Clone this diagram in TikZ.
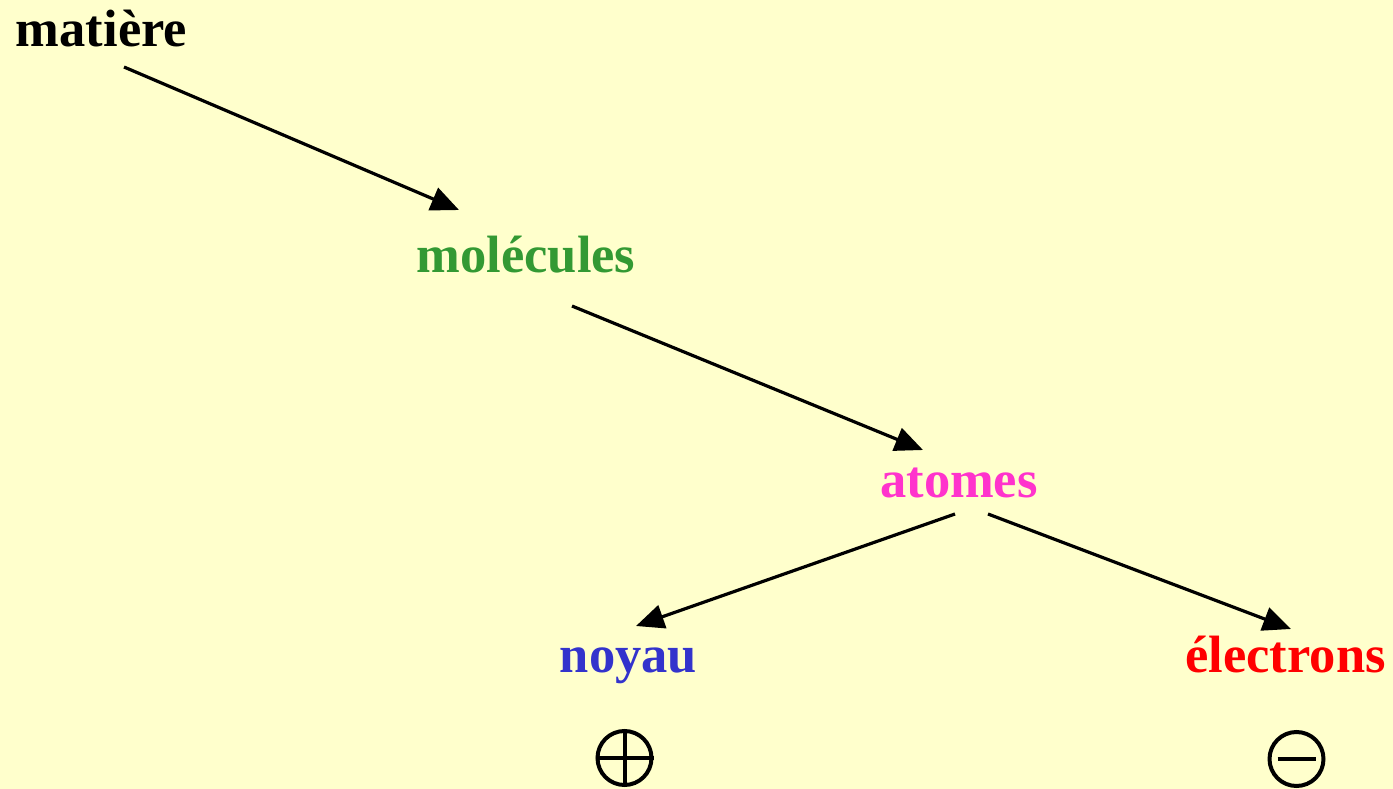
\documentclass[tikz,border=0pt]{standalone}
\usepackage{fontspec}
\setmainfont{Liberation Serif}
\usetikzlibrary{arrows.meta}
\definecolor{bg}{HTML}{FFFFCC}
\definecolor{cgreen}{HTML}{339933}
\definecolor{cmagenta}{HTML}{FF33CC}
\definecolor{cblue}{HTML}{3333CC}
\definecolor{cred}{HTML}{FF0000}
\begin{document}
\begin{tikzpicture}[x=1pt,y=-1pt,
  lbl/.style={anchor=base,inner sep=0pt,font=\fontsize{52.5}{60}\selectfont\bfseries},
  conn/.style={line width=3.2pt,-{Triangle[length=28pt,width=24pt]}},
  sym/.style={circle,draw,line width=4pt,minimum size=54pt,inner sep=0pt}]
\fill[bg] (0,0) rectangle (1393,789);
\useasboundingbox (0,0) rectangle (1393,789);
\node[lbl] (mat) at (101.5,47) {matière};
\node[lbl,text=cgreen] (mol) at (526,272) {molécules};
\node[lbl,text=cmagenta] (ato) at (959,497) {atomes};
\node[lbl,text=cblue] (noy) at (628.5,672) {noyau};
\node[lbl,text=cred] (ele) at (1285.5,672) {électrons};
\coordinate (a1s) at (124,67);
\coordinate (a1e) at (459,210);
\coordinate (a2s) at (572,306);
\coordinate (a2e) at (923,450);
\coordinate (a3s) at (955,514);
\coordinate (a3e) at (636,626);
\coordinate (a4s) at (988,514);
\coordinate (a4e) at (1291,629);
\draw[conn] (a1s) -- (a1e);
\draw[conn] (a2s) -- (a2e);
\draw[conn] (a3s) -- (a3e);
\draw[conn] (a4s) -- (a4e);
\node[sym] (plus) at (624.5,758) {};
\draw[line width=4pt] (plus.north) -- (plus.south);
\draw[line width=4pt] (plus.west) -- (plus.east);
\node[sym] (minus) at (1296.5,759) {};
\draw[line width=4pt] ([xshift=-19pt]minus.center) -- ([xshift=19pt]minus.center);
\end{tikzpicture}
\end{document}
